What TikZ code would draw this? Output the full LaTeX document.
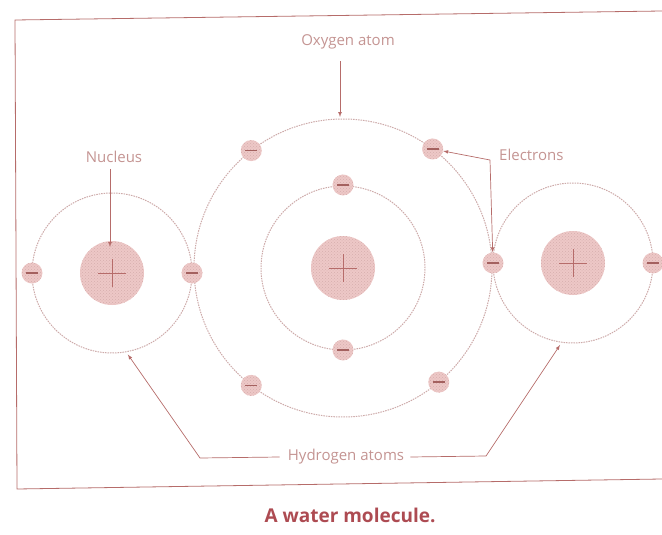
\documentclass[tikz,border=0pt]{standalone}
\usepackage{fontspec}
\setmainfont{Open Sans}
\usetikzlibrary{patterns}

\definecolor{inkred}{HTML}{B66C6A}
\definecolor{labelgrey}{HTML}{C49492}
\definecolor{orbitgrey}{HTML}{CDAAA9}
\definecolor{blobpink}{HTML}{EDC8C7}
\definecolor{captionred}{HTML}{AD4B52}

\tikzset{
  orbit/.style={draw=orbitgrey, line width=1pt, dash pattern=on 1.5pt off 1pt},
  blob/.style={circle, inner sep=0pt, preaction={fill=blobpink},
    pattern=crosshatch dots, pattern color=inkred!55},
  nucleus/.style={blob, minimum size=64pt,
    path picture={
      \draw[inkred, line width=0.9pt]
        ([xshift=-14pt]path picture bounding box.center) -- ([xshift=14pt]path picture bounding box.center)
        ([yshift=-14pt]path picture bounding box.center) -- ([yshift=14pt]path picture bounding box.center);
    }},
  electron/.style={blob, minimum size=21pt,
    path picture={
      \draw[inkred!90!black, line width=1.6pt]
        ([xshift=-6pt]path picture bounding box.center) -- ([xshift=6pt]path picture bounding box.center);
    }},
  tag/.style={text=labelgrey, font=\fontsize{15}{15}\selectfont, inner sep=0pt},
  pointer/.style={draw=inkred, line width=0.7pt, ->},
}

\begin{document}
\begin{tikzpicture}[x=1pt,y=-1pt,>=latex]
  \useasboundingbox (0,0) rectangle (662,535);

  % frame, open on the right
  \draw[inkred, line width=0.8pt] (662,11) -- (15,20) -- (17,489) -- (662,479);

  % atom centres
  \coordinate (ocen) at (343,268);
  \coordinate (hlcen) at (112,273);
  \coordinate (hrcen) at (573,263);

  % orbits
  \draw[orbit] (ocen) circle[radius=149pt];
  \draw[orbit] (ocen) circle[radius=82pt];
  \draw[orbit] (hlcen) circle[radius=80pt];
  \draw[orbit] (hrcen) circle[radius=80pt];

  % nuclei
  \node[nucleus] (onuc) at (ocen) {};
  \node[nucleus] (hlnuc) at (hlcen) {};
  \node[nucleus] (hrnuc) at (hrcen) {};

  % electrons
  \path (ocen) ++(90:83pt) node[electron] (oin1) {};
  \path (ocen) ++(-90:82pt) node[electron] (oin2) {};
  \foreach \a/\n in {53/ur,128/ul,232/ll,310/lr}
  {
    \path (ocen) ++(\a:149pt) node[electron] (o\n) {};
  }
  \path (hlcen) ++(180:80pt) node[electron] (hlout) {};
  \path (hlcen) ++(0:80pt) node[electron] (hlshare) {};
  \path (hrcen) ++(180:80pt) node[electron] (hrshare) {};
  \path (hrcen) ++(0:80pt) node[electron] (hrout) {};

  % labels
  \node[tag] (olab) at (348,42) {Oxygen atom};
  \node[tag] (nlab) at (114,157) {Nucleus};
  \node[tag, anchor=west] (elab) at (499,155) {Electrons};
  \node[tag] (hlab) at (346,457) {Hydrogen atoms};
  \node[text=captionred, font=\bfseries\fontsize{19}{19}\selectfont] (cap) at (350,515) {A water molecule.};

  % pointers
  \coordinate (otop) at (340,117);
  \draw[pointer] ([yshift=-12pt]olab.south -| otop) -- (otop);
  \coordinate (ntip) at (110,247);
  \draw[pointer] ([yshift=-6pt]nlab.south -| ntip) -- (ntip);
  \coordinate (ejoin) at (490,160);
  \draw[pointer] (ejoin) -- (our);
  \draw[pointer] (ejoin) -- (hrshare);
  \path (hlcen) ++(-79:83pt) coordinate (hlbot);
  \path (hrcen) ++(-99:83pt) coordinate (hrbot);
  \draw[pointer] ([xshift=-8pt]hlab.west) -- (200,458) -- (hlbot);
  \draw[pointer] ([xshift=6pt]hlab.east) -- (486,456) -- (hrbot);
\end{tikzpicture}
\end{document}
